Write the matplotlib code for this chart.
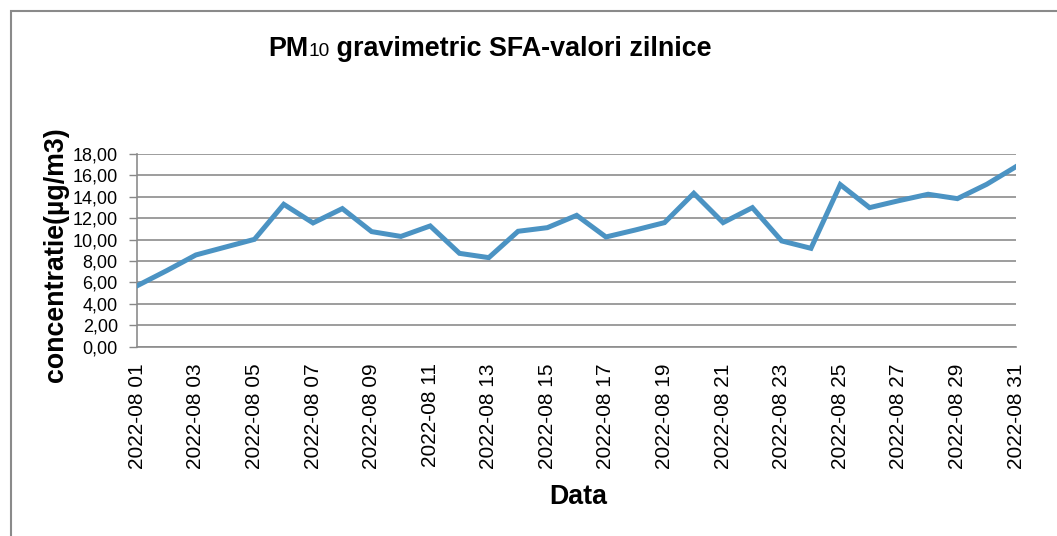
import matplotlib
matplotlib.use("Agg")
import matplotlib.pyplot as plt
from matplotlib.patches import Rectangle

plt.rcParams['font.family'] = ['Liberation Sans', 'DejaVu Sans']

# date zilnice PM10 - august 2022
zile = [f"2022-08 {d:02d}" for d in range(1, 32)]
valori = [5.70, 7.10, 8.57, 9.30, 10.03, 13.30, 11.56, 12.90, 10.75, 10.30,
          11.28, 8.72, 8.32, 10.78, 11.12, 12.27, 10.25, 10.90, 11.59, 14.33,
          11.59, 12.99, 9.88, 9.19, 15.14, 12.99, 13.64, 14.24, 13.83, 15.17,
          16.82]
y_ticks = [0, 2, 4, 6, 8, 10, 12, 14, 16, 18]

W, H = 1057, 536
fig = plt.figure(figsize=(W / 100, H / 100), dpi=100)
ax = fig.add_axes([137.3 / W, 1 - 346.7 / H, (1016 - 137.3) / W, (346.7 - 154) / H])

x = list(range(len(zile)))
ax.plot(x, valori, color='#4b93c3', lw=3.6, solid_joinstyle='miter', zorder=3)

ax.set_xlim(0, len(zile) - 1)
ax.set_ylim(0, 18)
ax.set_yticks(y_ticks)
ax.set_yticklabels([f"{v:.2f}".replace('.', ',') for v in y_ticks], fontsize=13)
ax.set_xticks(x[::2])
ax.set_xticklabels(zile[::2], rotation=90, fontsize=15)
ax.tick_params(axis='y', length=6, width=1, color='#888888', pad=8)
ax.tick_params(axis='x', length=0, pad=12)

ax.grid(axis='y', color='#8c8c8c', lw=1.2)
ax.set_axisbelow(True)
for s in ['top', 'right']:
    ax.spines[s].set_visible(False)
ax.spines['left'].set_color('#8c8c8c')
ax.spines['bottom'].set_color('#8c8c8c')
ax.spines['left'].set_linewidth(1.2)
ax.spines['bottom'].set_linewidth(1.2)

fig.text(56 / W, 1 - 255 / H, 'concentratie(µg/m3)', rotation=90,
         ha='center', va='center', fontsize=19.3, fontweight='bold')
fig.text(578 / W, 1 - 497 / H, 'Data', ha='center', va='center',
         fontsize=19.3, fontweight='bold')

# titlu: "PM" + "10" mai mic + rest
fig.canvas.draw()
r = fig.canvas.get_renderer()
x0, yb = 268 / W, 1 - 56 / H
t1 = fig.text(x0, yb, 'PM', fontsize=19.4, fontweight='bold', va='baseline')
w1 = t1.get_window_extent(r).width / W
t2 = fig.text(x0 + w1, yb, '10', fontsize=13.8, va='baseline')
w2 = t2.get_window_extent(r).width / W
fig.text(x0 + w1 + w2, yb, ' gravimetric SFA-valori zilnice', fontsize=19.4,
         fontweight='bold', va='baseline')

# chenar
fig.patches.append(Rectangle((10.5 / W, -0.1), 1.2, 1 - 11 / H + 0.1,
                             transform=fig.transFigure, fill=False,
                             edgecolor='#8a8a8a', lw=1.5))

fig.savefig('out.png', dpi=100)
